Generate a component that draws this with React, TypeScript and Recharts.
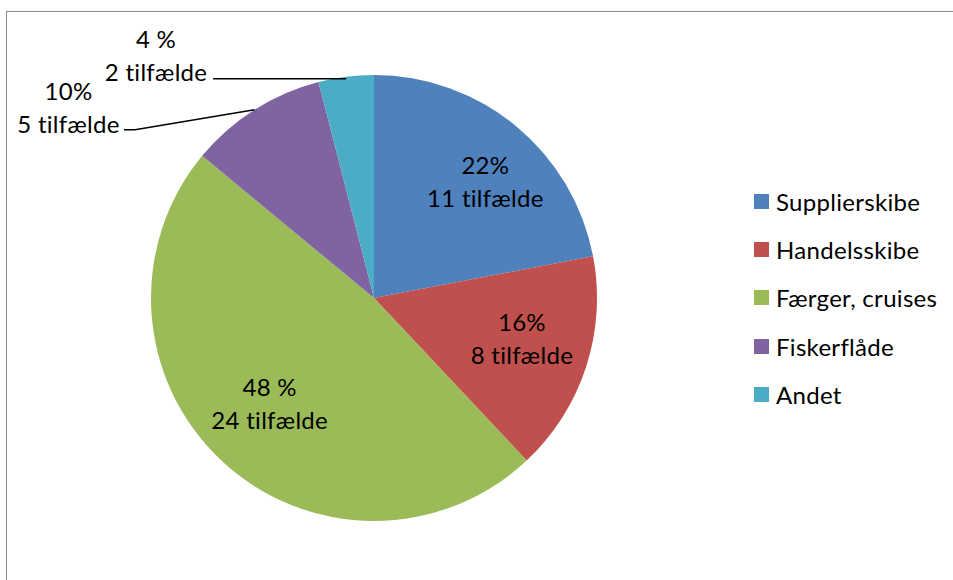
import React from 'react';
import { PieChart, Pie, Cell, Legend } from 'recharts';

const categories = ['Supplierskibe', 'Handelsskibe', 'Færger, cruises', 'Fiskerflåde', 'Andet'];
const cases = [11, 8, 24, 5, 2];
const percentLabels = ['22%', '16%', '48 %', '10%', '4 %'];
const colors = ['#4F81BD', '#C0504D', '#9BBB59', '#8064A2', '#4BACC6'];

const data = categories.map((name, i) => ({ name, value: cases[i] }));

// label placement tweaks (radius fraction, angle shift in degrees) for inside labels
const insideTweak = [
  { r: 0.723, da: -4.1 },
  { r: 0.687, da: 2.9 },
  { r: 0.665, da: -1.5 },
];

const FONT = 'Lato, "Open Sans", sans-serif';
const FS = 24;
const LS = 0.3;
const RAD = Math.PI / 180;

const T = (p: any) => (
  <text textAnchor="middle" dominantBaseline="central" fill="#000" fontSize={FS} fontFamily={FONT} letterSpacing={LS} {...p} />
);

const renderLabel = (props: any) => {
  const { cx, cy, midAngle, outerRadius, index } = props;
  const l1 = percentLabels[index];
  const l2 = `${cases[index]} tilfælde`;
  if (index < 3) {
    const tw = insideTweak[index];
    const a = (midAngle + tw.da) * RAD;
    const r = outerRadius * tw.r;
    const x = cx + r * Math.cos(-a);
    const y = cy + r * Math.sin(-a);
    return (
      <g>
        <T x={x} y={y - 16.5}>{l1}</T>
        <T x={x} y={y + 16.5}>{l2}</T>
      </g>
    );
  }
  const ex = cx + outerRadius * Math.cos(-midAngle * RAD);
  const ey = cy + outerRadius * Math.sin(-midAngle * RAD);
  if (index === 3) {
    const bx = ex - 119.5;
    const by = ey + 20;
    const endX = bx - 11;
    const tx = endX - 55.5;
    return (
      <g>
        <polyline points={`${ex},${ey} ${bx},${by} ${endX},${by}`} fill="none" stroke="#000" strokeWidth={1.5} />
        <T x={tx} y={by - 39}>{l1}</T>
        <T x={tx} y={by - 6.7}>{l2}</T>
      </g>
    );
  }
  const endX = ex - 133;
  const endY = ey + 2;
  const tx = endX - 57;
  return (
    <g>
      <polyline points={`${ex},${endY} ${endX},${endY}`} fill="none" stroke="#000" strokeWidth={1.5} />
      <T x={tx} y={endY - 40}>{l1}</T>
      <T x={tx} y={endY - 7}>{l2}</T>
    </g>
  );
};

const renderLegend = () => (
  <div style={{ fontFamily: FONT, fontSize: FS, letterSpacing: LS, color: '#000' }}>
    {categories.map((c, i) => (
      <div key={c} style={{ display: 'flex', alignItems: 'center', height: 48.2 }}>
        <span style={{ display: 'inline-block', width: 15, height: 15, background: colors[i], marginRight: 7, flexShrink: 0 }} />
        <span>{c}</span>
      </div>
    ))}
  </div>
);

export default function App() {
  return (
    <div style={{ position: 'fixed', left: 0, top: 0, width: 953, height: 580, overflow: 'hidden', background: '#fff' }}>
      <div style={{ position: 'absolute', left: 6, top: 11, width: 1000, height: 1000, border: '1.5px solid #8c8c8c' }} />
      <div style={{ position: 'absolute', left: 0, top: 0 }}>
        <PieChart width={953} height={580} margin={{ top: 0, right: 0, bottom: 0, left: 0 }}>
          <Pie
            data={data}
            dataKey="value"
            nameKey="name"
            cx={374}
            cy={298}
            outerRadius={223}
            startAngle={90}
            endAngle={-270}
            stroke="none"
            label={renderLabel}
            labelLine={false}
            isAnimationActive={false}
          >
            {data.map((d, i) => (
              <Cell key={d.name} fill={colors[i]} />
            ))}
          </Pie>
          <Legend
            content={renderLegend}
            layout="vertical"
            wrapperStyle={{ position: 'absolute', left: 754, top: 177.5, width: 200 }}
          />
        </PieChart>
      </div>
    </div>
  );
}
